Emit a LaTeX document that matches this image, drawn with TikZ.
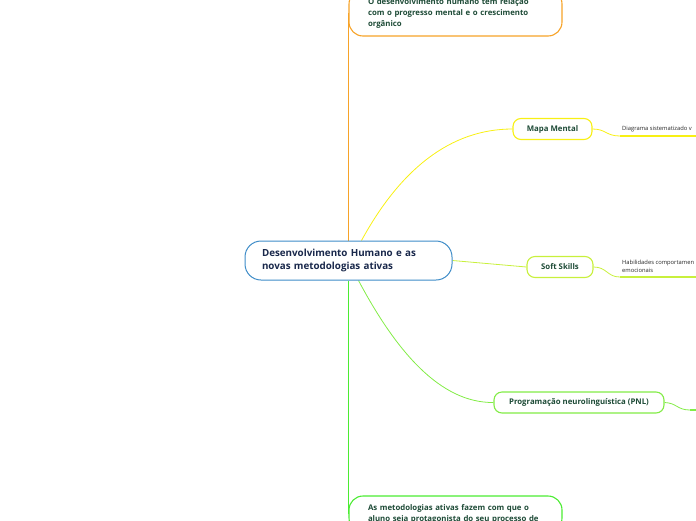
\documentclass[tikz,border=0pt]{standalone}
\usepackage{fontspec}
\setmainfont{Open Sans}
\usetikzlibrary{positioning, calc, backgrounds}
\definecolor{mapBlue}{RGB}{62,140,200}
\definecolor{mapNavy}{RGB}{25,40,75}
\definecolor{mapInk}{RGB}{30,75,55}
\definecolor{mapOrange}{RGB}{247,163,40}
\definecolor{mapYellow}{RGB}{248,240,20}
\definecolor{mapLime}{RGB}{200,240,60}
\definecolor{mapGreen}{RGB}{130,236,70}
\definecolor{mapDeep}{RGB}{75,236,50}

\begin{document}
\begin{tikzpicture}[x=1pt, y=-1pt,
		every node/.style={font=\bfseries\fontsize{7.8}{11}\selectfont, text=mapInk},
		topic/.style={draw, fill=white, line width=1.1pt, rounded corners=14pt, align=left, inner xsep=19pt, inner ysep=0pt, text width=175pt},
		branch/.style={draw, fill=white, line width=1.1pt, rounded corners=8pt, inner sep=0pt, minimum height=21pt},
		leaf/.style={font=\fontsize{5.8}{8.5}\selectfont, text=black!85, inner sep=0pt, anchor=south west, align=left},
		link/.style={line width=0.8pt}]
		\useasboundingbox (0,0) rectangle (696,520);
		\clip (0,0) rectangle (696,520);
		% Central topic
		\node[draw=mapBlue, fill=white, line width=1pt, rounded corners=16pt, align=left, inner xsep=17pt, inner ysep=0pt,
			text width=173pt, minimum height=39pt, text=mapNavy, font=\bfseries\fontsize{9.8}{13}\selectfont]
			(root) at (348.5,260.5) {Desenvolvimento Humano e as\\novas metodologias ativas};
		% Top and bottom topics
		\node[topic, draw=mapOrange, minimum height=46pt] (desenv) at (455.5,13)
			{O desenvolvimento humano tem relação\\com o progresso mental e o crescimento\\orgânico};
		\node[topic, draw=mapDeep, minimum height=36pt] (ativas) at (455.5,514)
			{As metodologias ativas fazem com que o\\aluno seja protagonista do seu processo de};
		% Branches
		\node[branch, draw=mapYellow, minimum width=79pt] (mapa) at (552.5,129) {Mapa Mental};
		\node[branch, draw=mapLime, minimum width=66pt] (soft) at (560,267) {Soft Skills};
		\node[branch, draw=mapGreen, minimum width=170pt] (pnl) at (579,402.5) {Programação neurolinguística (PNL)};
		% Leaves
		\coordinate (mapaLeaf) at (620,136);
		\coordinate (mapaEnd) at (700,136);
		\coordinate (softLeaf) at (620,277);
		\coordinate (softEnd) at (700,277);
		\coordinate (pnlLeaf) at (690,410);
		\coordinate (pnlEnd) at (700,410);
		\node[leaf] (mapaText) at (622,132) {Diagrama sistematizado v};
		\node[leaf] (softText) at (622,273) {Habilidades comportamen\\emocionais};
		\begin{scope}[on background layer]
			\draw[mapOrange, line width=1.3pt] (root.north) -- (root.north |- desenv.west);
			\draw[mapDeep, line width=1.3pt] (root.south) -- (root.south |- ativas.center);
			\draw[link, mapYellow] ($(root.north)+(13,0)$) .. controls (400,170) and (450,129) .. (mapa.west);
			\draw[link, mapLime] (root.east) -- (soft.west);
			\draw[link, mapGreen] ($(root.south)+(10,0)$) .. controls (396,351) and (440,403) .. (pnl.west);
			\draw[link, mapYellow] (mapa.east) .. controls (606,129) and (606,136) .. (mapaLeaf);
			\draw[mapYellow, line width=1.4pt] (mapaLeaf) -- (mapaEnd);
			\draw[link, mapLime] (soft.east) .. controls (607,267) and (607,277) .. (softLeaf);
			\draw[mapLime, line width=1.4pt] (softLeaf) -- (softEnd);
			\draw[link, mapGreen] (pnl.east) .. controls (677,403) and (677,410) .. (pnlLeaf);
			\draw[mapGreen, line width=1.4pt] (pnlLeaf) -- (pnlEnd);
		\end{scope}
	\end{tikzpicture}
\end{document}
